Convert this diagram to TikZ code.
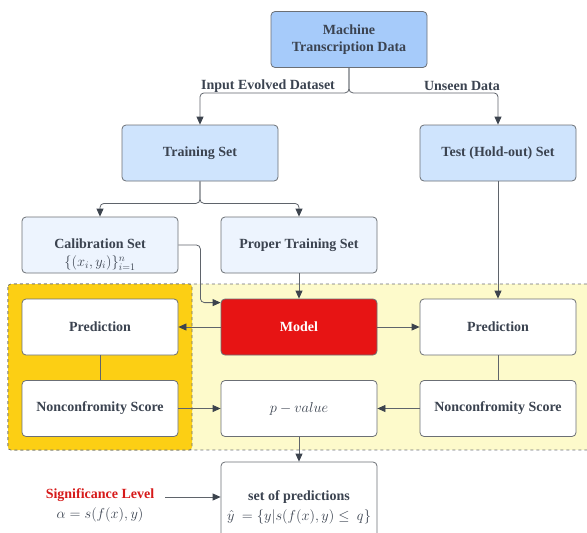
\documentclass[tikz,border=0pt]{standalone}
\usepackage{fontspec}
\setmainfont{Liberation Serif}
\usetikzlibrary{arrows.meta,calc}
\definecolor{txtc}{HTML}{3B4350}
\definecolor{bordc}{HTML}{6B6F75}
\definecolor{linec}{HTML}{5F646B}
\definecolor{tipc}{HTML}{3C434D}
\definecolor{bluea}{HTML}{A6CBFA}
\definecolor{blueb}{HTML}{CFE4FD}
\definecolor{bluec}{HTML}{EDF4FE}
\definecolor{redm}{HTML}{E71414}
\definecolor{orng}{HTML}{FCCF14}
\definecolor{ylw}{HTML}{FDFACB}
\definecolor{sigred}{HTML}{D61A1A}
\tikzset{
  box/.style={draw=bordc, line width=0.8pt, rounded corners=4pt, minimum width=156pt, minimum height=56pt, align=center, text=txtc, font=\bfseries\fontsize{14}{17}\selectfont, inner sep=2pt},
  txt/.style={align=center, text=txtc, font=\bfseries\fontsize{14}{17}\selectfont, inner sep=1pt},
  mtxt/.style={align=center, text=txtc, font=\fontsize{14}{17}\selectfont, inner sep=0pt},
  conn/.style={draw=linec, line width=0.8pt, rounded corners=4pt},
  arr/.style={conn, -{Triangle[length=8pt,width=7pt,fill=tipc,color=tipc]}},
}
\begin{document}
\begin{tikzpicture}[x=1pt,y=-1pt]
\useasboundingbox (0,0) rectangle (587,533);
% regions
\fill[ylw] (8,284) rectangle (600,450);
\draw[bordc, dashed, line width=0.6pt, rounded corners=3pt] (8,284) rectangle (600,450);
\filldraw[fill=orng, draw=bordc, dashed, line width=0.6pt, rounded corners=3pt] (8,284) rectangle (192,450);
% nodes
\node[box, fill=bluea] (machine) at (349,39.5) {Machine\\Transcription Data};
\node[box, fill=blueb] (train) at (200,153) {Training Set};
\node[box, fill=blueb] (test) at (498,153) {Test (Hold-out) Set};
\node[box, fill=bluec] (calib) at (100,245) {};
\node[txt] (calibt) at (100,244) {Calibration Set};
\node[mtxt] (calibm) at (100,263) {$\{(x_i,y_i)\}_{i=1}^n$};
\node[box, fill=bluec] (proper) at (299,245) {Proper Training Set};
\node[box, fill=white] (predL) at (100,327) {Prediction};
\node[box, fill=redm, text=white] (model) at (299,327) {Model};
\node[box, fill=white] (predR) at (498,327) {Prediction};
\node[box, fill=white] (ncL) at (100,408.5) {Nonconfromity Score};
\node[box, fill=white] (pval) at (299,408.5) {\mdseries$p-value$};
\node[box, fill=white] (ncR) at (498,408.5) {Nonconfromity Score};
\node[box, fill=white, minimum height=90pt] (setp) at (299,507) {};
\node[txt] (setpt) at (299,497) {set of predictions};
\node[mtxt] (setpm) at (299,517) {$\hat{y}\ =\{y|s(f(x),y)\leq\ q\}$};
\node[txt, text=sigred] (sig) at (100,495) {Significance Level};
\node[mtxt] (alpha) at (100,515) {$\alpha=s(f(x),y)$};
\coordinate (sigc) at (165,497);
% labels
\node[txt] (lblin) at (268,86) {Input Evolved Dataset};
\node[txt] (lblun) at (462,86) {Unseen Data};
% connectors
\draw[arr] (machine.south) -- ++(0,25) -| (train.north);
\draw[arr] (machine.south) -- ++(0,25) -| (test.north);
\draw[arr] (train.south) -- ++(0,22) -| (calib.north);
\draw[arr] (train.south) -- ++(0,22) -| (proper.north);
\draw[arr] (calib.east) -- ++(22,0) |- ($(model.north west)+(0,4)$);
\draw[arr] (proper.south) -- (model.north);
\draw[arr] (test.south) -- (predR.north);
\draw[arr] (model.west) -- (predL.east);
\draw[arr] (model.east) -- (predR.west);
\draw[conn] (predL.south) -- (ncL.north);
\draw[conn] (predR.south) -- (ncR.north);
\draw[arr] (ncL.east) -- (pval.west);
\draw[arr] (ncR.west) -- (pval.east);
\draw[arr] (pval.south) -- (setp.north);
\draw[arr] (sigc) -- (sigc -| setp.west);
\end{tikzpicture}
\end{document}
